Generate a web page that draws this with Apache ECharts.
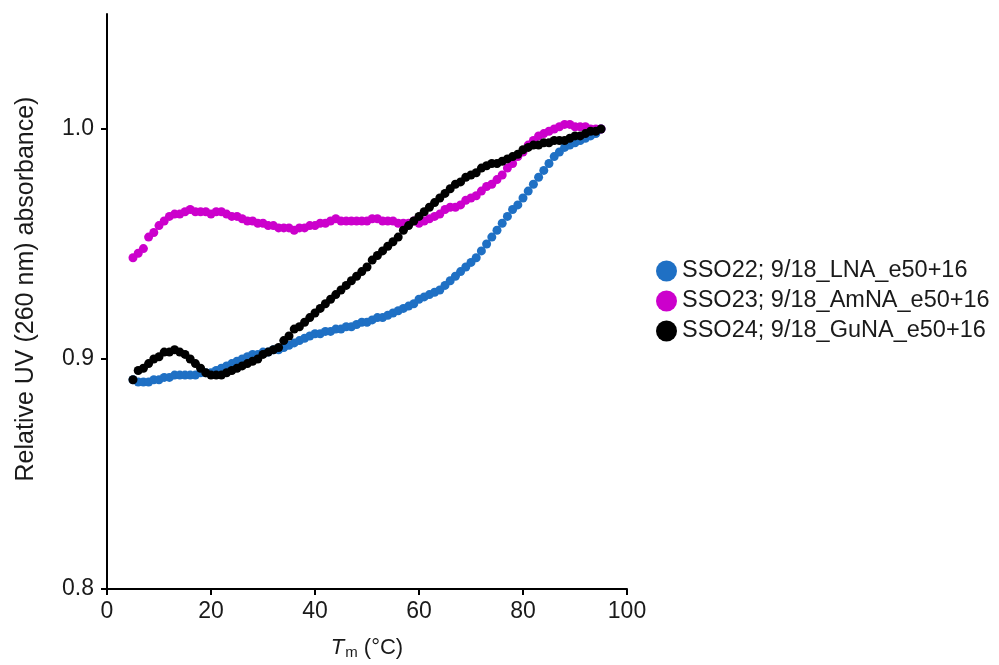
<!DOCTYPE html>
<html>
<head>
<meta charset="utf-8">
<script src="https://cdn.jsdelivr.net/npm/echarts@6/dist/echarts.min.js"></script>
<style>
html,body{margin:0;padding:0;background:#fff;}
#chart{width:999px;height:665px;}
</style>
</head>
<body>
<div id="chart"></div>
<script>
var temps = [];
for (var t = 5; t <= 95; t++) temps.push(t);

var seriesNames = ['SSO22; 9/18_LNA_e50+16', 'SSO23; 9/18_AmNA_e50+16', 'SSO24; 9/18_GuNA_e50+16'];
var seriesColors = ['#1f70c4', '#cc00cc', '#000000'];

var sso22 = [
0.891,0.890,0.890,0.890,0.891,0.891,0.892,0.892,0.893,0.893,
0.893,0.893,0.893,0.894,0.894,0.894,0.895,0.896,0.897,0.898,
0.899,0.900,0.901,0.902,0.902,0.903,0.903,0.904,0.904,0.905,
0.906,0.907,0.908,0.909,0.910,0.911,0.911,0.912,0.912,0.913,
0.913,0.914,0.914,0.915,0.916,0.916,0.917,0.918,0.918,0.919,
0.920,0.921,0.922,0.923,0.924,0.926,0.927,0.928,0.929,0.930,
0.932,0.934,0.936,0.938,0.940,0.942,0.944,0.947,0.950,0.953,
0.956,0.959,0.962,0.965,0.967,0.970,0.973,0.976,0.979,0.982,
0.985,0.988,0.990,0.992,0.993,0.994,0.995,0.996,0.997,0.998,
1.000];

var sso23 = [
0.944,0.946,0.948,0.953,0.955,0.958,0.960,0.962,0.963,0.963,
0.964,0.965,0.964,0.964,0.964,0.963,0.964,0.964,0.963,0.962,
0.962,0.961,0.960,0.960,0.959,0.959,0.958,0.958,0.957,0.957,
0.957,0.956,0.957,0.957,0.958,0.958,0.959,0.959,0.960,0.961,
0.960,0.960,0.960,0.960,0.960,0.960,0.961,0.961,0.960,0.960,
0.960,0.959,0.959,0.959,0.960,0.959,0.960,0.961,0.962,0.963,
0.965,0.966,0.966,0.967,0.969,0.970,0.971,0.973,0.975,0.976,
0.978,0.980,0.983,0.985,0.988,0.990,0.993,0.995,0.997,0.998,
0.999,1.000,1.001,1.002,1.002,1.001,1.001,1.001,1.000,1.000,
1.000];

var sso24 = [
0.891,0.895,0.896,0.898,0.900,0.901,0.903,0.903,0.904,0.903,
0.902,0.900,0.898,0.896,0.894,0.893,0.893,0.893,0.894,0.895,
0.896,0.897,0.898,0.899,0.900,0.902,0.903,0.904,0.905,0.908,
0.910,0.913,0.914,0.916,0.918,0.920,0.922,0.924,0.926,0.928,
0.930,0.932,0.934,0.936,0.938,0.940,0.943,0.945,0.947,0.949,
0.951,0.953,0.956,0.958,0.960,0.962,0.964,0.966,0.968,0.970,
0.972,0.974,0.976,0.977,0.979,0.980,0.981,0.983,0.984,0.985,
0.985,0.986,0.987,0.988,0.989,0.991,0.992,0.993,0.993,0.994,
0.994,0.995,0.995,0.995,0.996,0.997,0.997,0.998,0.999,0.999,
1.000];

var xTicks = [0, 20, 40, 60, 80, 100];
var yTicks = [0.8, 0.9, 1.0];
var yTitle = 'Relative UV (260 nm) absorbance)';

function pairs(vals) {
  return vals.map(function (v, i) { return [temps[i], v]; });
}

var font = 'Liberation Sans, Arial, sans-serif';
var txt = '#1a1a1a';
var chart = echarts.init(document.getElementById('chart'), null, {renderer: 'canvas'});
chart.setOption({
  animation: false,
  backgroundColor: '#ffffff',
  grid: {left: 107, right: 372, top: 14, bottom: 75, containLabel: false},
  legend: {
    orient: 'vertical',
    left: 651,
    top: 254,
    icon: 'circle',
    itemWidth: 21,
    itemHeight: 21,
    itemGap: 6,
    textStyle: {fontFamily: font, fontSize: 23.5, color: txt, lineHeight: 21, padding: [0, 0, 0, 0]},
    data: seriesNames
  },
  graphic: [{
    type: 'text',
    x: 26, y: 289,
    rotation: Math.PI / 2,
    style: {text: yTitle, fontFamily: font, fontSize: 25, fill: txt, align: 'center', verticalAlign: 'middle'}
  }],
  xAxis: {
    type: 'value',
    min: 0, max: 100, interval: 20,
    name: '{i|T}{s|m} (°C)',
    nameLocation: 'middle',
    nameGap: 46,
    nameTextStyle: {
      fontFamily: font, fontSize: 22, color: txt,
      rich: {
        i: {fontFamily: font, fontSize: 22, fontStyle: 'italic', color: txt},
        s: {fontFamily: font, fontSize: 15, color: txt, verticalAlign: 'bottom', padding: [10, 0, 0, 1]}
      }
    },
    axisLine: {show: true, lineStyle: {color: '#000', width: 2}},
    axisTick: {show: true, length: 6, lineStyle: {color: '#000', width: 2}, customValues: xTicks},
    axisLabel: {fontFamily: font, fontSize: 23, color: txt, margin: 11, customValues: xTicks},
    splitLine: {show: false}
  },
  yAxis: {
    type: 'value',
    min: 0.8, max: 1.05, interval: 0.1,
    axisLine: {show: true, lineStyle: {color: '#000', width: 2}},
    axisTick: {show: true, length: 6, lineStyle: {color: '#000', width: 2}, customValues: yTicks},
    axisLabel: {
      fontFamily: font, fontSize: 23, color: txt, margin: 13, customValues: yTicks,
      formatter: function (v) { return v.toFixed(1); }
    },
    splitLine: {show: false}
  },
  series: [
    {name: seriesNames[0], type: 'scatter', symbolSize: 9, itemStyle: {color: seriesColors[0], opacity: 1}, data: pairs(sso22)},
    {name: seriesNames[1], type: 'scatter', symbolSize: 9, itemStyle: {color: seriesColors[1], opacity: 1}, data: pairs(sso23)},
    {name: seriesNames[2], type: 'scatter', symbolSize: 9, itemStyle: {color: seriesColors[2], opacity: 1}, data: pairs(sso24)}
  ]
});
</script>
</body>
</html>
